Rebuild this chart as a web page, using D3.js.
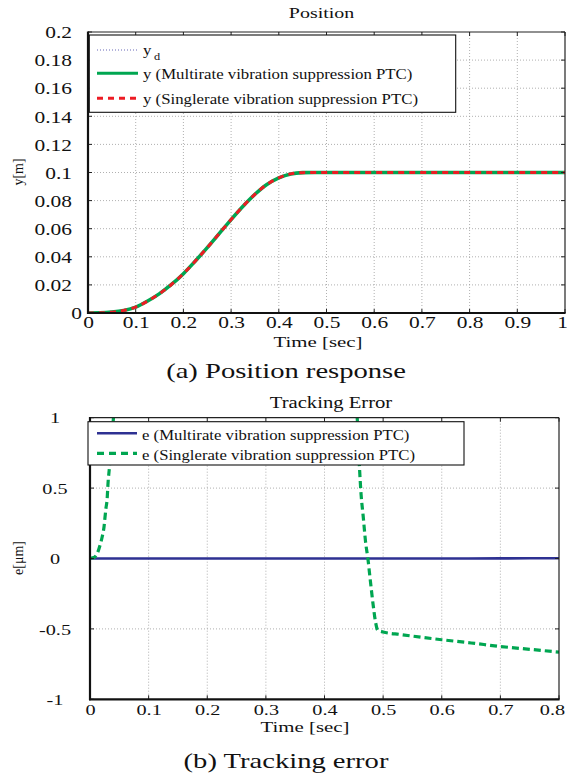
<!DOCTYPE html>
<html><head><meta charset="utf-8">
<script src="https://cdn.jsdelivr.net/npm/d3@7"></script>
<style>
html,body{margin:0;padding:0;background:#fff;}
svg{display:block;}
</style></head>
<body>
<script>
// ---------- DATA ----------
const posT = [0,0.025,0.05,0.075,0.1,0.125,0.15,0.175,0.2,0.225,0.25,0.275,0.3,0.325,0.35,0.375,0.4,0.425,0.45,0.475,0.5,0.6,0.7,0.8,0.9,1.0];
const posYd     = [0,0.0001,0.0006,0.0018,0.0042,0.0085,0.0138,0.0203,0.0280,0.0370,0.0465,0.0565,0.0665,0.0760,0.0845,0.0915,0.0962,0.0990,0.0999,0.1,0.1,0.1,0.1,0.1,0.1,0.1];
const posYMulti = [0,0.0001,0.0006,0.0018,0.0042,0.0085,0.0138,0.0203,0.0280,0.0370,0.0465,0.0565,0.0665,0.0760,0.0845,0.0915,0.0962,0.0990,0.0999,0.1,0.1,0.1,0.1,0.1,0.1,0.1];
const posYSingle= [0,0.0001,0.0006,0.0018,0.0042,0.0085,0.0138,0.0203,0.0280,0.0370,0.0465,0.0565,0.0665,0.0760,0.0845,0.0915,0.0962,0.0990,0.0999,0.1,0.1,0.1,0.1,0.1,0.1,0.1];
const posXTicks = [0,0.1,0.2,0.3,0.4,0.5,0.6,0.7,0.8,0.9,1];
const posXTickLabels = ["0","0.1","0.2","0.3","0.4","0.5","0.6","0.7","0.8","0.9","1"];
const posYTicks = [0,0.02,0.04,0.06,0.08,0.1,0.12,0.14,0.16,0.18,0.2];
const posYTickLabels = ["0","0.02","0.04","0.06","0.08","0.1","0.12","0.14","0.16","0.18","0.2"];
const posLegend = ["y","y (Multirate vibration suppression PTC)","y (Singlerate vibration suppression PTC)"];

const errMultiT = [0,0.1,0.2,0.3,0.4,0.5,0.6,0.7,0.8];
const errMulti  = [0,0,0,0,0,0,0,0.001,0.002];
const errSingleT = [0,0.003,0.008,0.0114,0.017,0.021,0.024,0.0256,0.0273,0.029,0.031,0.033,0.036,0.040,0.043,
                    0.452,0.456,0.46,0.4625,0.466,0.47,0.474,0.478,0.483,0.487,0.491,0.5,0.53,0.6,0.65,0.7,0.75,0.8];
const errSingle  = [0,0.003,0.01,0.028,0.092,0.158,0.227,0.293,0.36,0.41,0.55,0.64,0.8,1.0,1.2,
                    1.2,0.985,0.62,0.45,0.3,0.12,0.0,-0.15,-0.33,-0.45,-0.51,-0.522,-0.54,-0.577,-0.6,-0.625,-0.645,-0.665];
const errXTicks = [0,0.1,0.2,0.3,0.4,0.5,0.6,0.7,0.8];
const errXTickLabels = ["0","0.1","0.2","0.3","0.4","0.5","0.6","0.7","0.8"];
const errYTicks = [-1,-0.5,0,0.5,1];
const errYTickLabels = ["-1","-0.5","0","0.5","1"];
const errLegend = ["e (Multirate vibration suppression PTC)","e (Singlerate vibration suppression PTC)"];

// ---------- STYLE ----------
const GREEN="#00a651", RED="#ed1c24", BLUE="#2e3192", YD="#9a9ad0";
const FONT = '"Liberation Serif","Times New Roman",serif';

const svg = d3.select("body").append("svg").attr("width",567).attr("height",778);

function stext(g,x,y,str,size,anchor,sx){
  return g.append("text").attr("transform",`translate(${x},${y}) scale(${sx},1)`)
    .attr("text-anchor",anchor).style("font-family",FONT).style("font-size",size+"px").style("fill","#111").text(str);
}

function panel(o){
  const g = svg.append("g");
  const x = d3.scaleLinear().domain(o.xDom).range([o.L,o.R]);
  const y = d3.scaleLinear().domain(o.yDom).range([o.B,o.T]);
  const grid = g.append("g").attr("stroke","#9c9c9c").attr("stroke-width",0.8).attr("stroke-dasharray","1,2");
  o.xTicks.forEach(v=>{ if(v!==o.xDom[0]&&v!==o.xDom[1]) grid.append("line").attr("x1",x(v)).attr("x2",x(v)).attr("y1",o.T).attr("y2",o.B);});
  o.yTicks.forEach(v=>{ if(v!==o.yDom[0]&&v!==o.yDom[1]) grid.append("line").attr("x1",o.L).attr("x2",o.R).attr("y1",y(v)).attr("y2",y(v));});
  const cid = "clip"+o.id;
  svg.append("defs").append("clipPath").attr("id",cid).append("rect")
    .attr("x",o.L).attr("y",o.T).attr("width",o.R-o.L).attr("height",o.B-o.T);
  const curves = g.append("g").attr("clip-path",`url(#${cid})`);
  o.series.forEach(s=>{
    const line = d3.line().x((d,i)=>x(s.t[i])).y(d=>y(d)).curve(d3.curveMonotoneX);
    curves.append("path").datum(s.v).attr("d",line).attr("fill","none")
      .attr("stroke",s.color).attr("stroke-width",s.w).attr("stroke-dasharray",s.dash||null)
      .attr("stroke-linejoin","round");
  });
  const ax = g.append("g").attr("transform",`translate(0,${o.B})`)
    .call(d3.axisBottom(x).tickValues(o.xTicks).tickSize(0).tickPadding(0).tickFormat((d,i)=>o.xLabels[i]));
  ax.select(".domain").remove();
  ax.selectAll("text").attr("y",0).attr("dy",null)
    .attr("transform",(d,i)=>`translate(${i===o.xTicks.length-1?o.lastShift:0},${o.xLabY}) scale(${o.tsx},1)`)
    .style("font-family",FONT).style("font-size",o.tfs+"px").style("fill","#111");
  const ay = g.append("g").attr("transform",`translate(${o.L},0)`)
    .call(d3.axisLeft(y).tickValues(o.yTicks).tickSize(0).tickPadding(0).tickFormat((d,i)=>o.yLabels[i]));
  ay.select(".domain").remove();
  ay.selectAll("text").attr("x",0).attr("dy","0.35em").attr("text-anchor",o.yAnchor)
    .attr("transform",(d)=>`translate(${(d===0&&o.zeroShift)?o.zeroShift:o.yLabX},0) scale(${o.tsx},1)`)
    .style("font-family",FONT).style("font-size",o.tfs+"px").style("fill","#111");
  const tk = g.append("g").attr("stroke","#222").attr("stroke-width",1);
  o.xTicks.forEach(v=>{
    tk.append("line").attr("x1",x(v)).attr("x2",x(v)).attr("y1",o.T).attr("y2",o.T+4);
    tk.append("line").attr("x1",x(v)).attr("x2",x(v)).attr("y1",o.B).attr("y2",o.B-4);
  });
  o.yTicks.forEach(v=>{
    tk.append("line").attr("x1",o.L).attr("x2",o.L+4).attr("y1",y(v)).attr("y2",y(v));
    tk.append("line").attr("x1",o.R).attr("x2",o.R-4).attr("y1",y(v)).attr("y2",y(v));
  });
  g.append("line").attr("x1",o.L).attr("x2",o.R).attr("y1",o.T).attr("y2",o.T).attr("stroke","#222").attr("stroke-width",1.2);
  g.append("line").attr("x1",o.R).attr("x2",o.R).attr("y1",o.T).attr("y2",o.B).attr("stroke","#222").attr("stroke-width",1.2);
  g.append("line").attr("x1",o.L).attr("x2",o.L).attr("y1",o.T-0.6).attr("y2",o.B+1).attr("stroke","#111").attr("stroke-width",2.2);
  g.append("line").attr("x1",o.L-1).attr("x2",o.R+0.6).attr("y1",o.B).attr("y2",o.B).attr("stroke","#111").attr("stroke-width",2.2);
  return {g,x,y};
}

// ---------- TOP PANEL ----------
panel({id:1,L:88,R:565,T:32,B:313,xDom:[0,1],yDom:[0,0.2],
  xTicks:posXTicks,xLabels:posXTickLabels,yTicks:posYTicks,yLabels:posYTickLabels,
  xLabY:15,yLabX:-16,yAnchor:"end",zeroShift:-6,lastShift:-3,tfs:16.5,tsx:1.3,
  series:[
    {t:posT,v:posYd,color:YD,w:1.2,dash:"1,2"},
    {t:posT,v:posYMulti,color:GREEN,w:3.6},
    {t:posT,v:posYSingle,color:RED,w:3,dash:"6,5"}
  ]});
stext(svg,321.5,18,"Position",15,"middle",1.33);
stext(svg,318,347,"Time [sec]",15,"middle",1.39);
svg.append("text").attr("transform","translate(23,172) rotate(-90)").attr("text-anchor","middle")
  .style("font-family",FONT).style("font-size","14px").style("fill","#111").text("y[m]");
{
  const lg = svg.append("g");
  lg.append("rect").attr("x",89.3).attr("y",35).attr("width",366.4).attr("height",77.3)
    .attr("fill","#fff").attr("stroke","#111").attr("stroke-width",1.1);
  lg.append("line").attr("x1",97).attr("x2",138).attr("y1",50).attr("y2",50).attr("stroke",YD).attr("stroke-width",1.3).attr("stroke-dasharray","1,2");
  stext(lg,143,55,posLegend[0],15,"start",1.12);
  stext(lg,154,60,"d",11,"start",1.12);
  lg.append("line").attr("x1",97).attr("x2",138).attr("y1",73.3).attr("y2",73.3).attr("stroke",GREEN).attr("stroke-width",3);
  stext(lg,143,79,posLegend[1],15,"start",1.12);
  lg.append("line").attr("x1",97).attr("x2",138).attr("y1",98.3).attr("y2",98.3).attr("stroke",RED).attr("stroke-width",3).attr("stroke-dasharray","6,5");
  stext(lg,143,104,posLegend[2],15,"start",1.12);
}
stext(svg,286,378,"(a) Position response",22,"middle",1.3);

// ---------- BOTTOM PANEL ----------
panel({id:2,L:90,R:559,T:417.7,B:699.3,xDom:[0,0.8],yDom:[-1,1],
  xTicks:errXTicks,xLabels:errXTickLabels,yTicks:errYTicks,yLabels:errYTickLabels,
  xLabY:16,yLabX:-35,yAnchor:"middle",zeroShift:null,lastShift:-7,tfs:15,tsx:1.35,
  series:[
    {t:errMultiT,v:errMulti,color:BLUE,w:2.6},
    {t:errSingleT,v:errSingle,color:GREEN,w:3.2,dash:"7,4"}
  ]});
stext(svg,331,408,"Tracking Error",16,"middle",1.29);
stext(svg,305,732,"Time [sec]",14.5,"middle",1.44);
svg.append("text").attr("transform","translate(23,558) rotate(-90)").attr("text-anchor","middle")
  .style("font-family",FONT).style("font-size","14px").style("fill","#111").text("e[μm]");
{
  const lg = svg.append("g");
  lg.append("rect").attr("x",88).attr("y",421.7).attr("width",376).attr("height",43.3)
    .attr("fill","#fff").attr("stroke","#111").attr("stroke-width",1.1);
  lg.append("line").attr("x1",97).attr("x2",137).attr("y1",433.3).attr("y2",433.3).attr("stroke",BLUE).attr("stroke-width",2.6);
  stext(lg,142,440,errLegend[0],15,"start",1.115);
  lg.append("line").attr("x1",97).attr("x2",137).attr("y1",453.3).attr("y2",453.3).attr("stroke",GREEN).attr("stroke-width",3.2).attr("stroke-dasharray","7,5");
  stext(lg,142,460,errLegend[1],15,"start",1.115);
}
stext(svg,286,768,"(b) Tracking error",22,"middle",1.3);
</script>
</body></html>
